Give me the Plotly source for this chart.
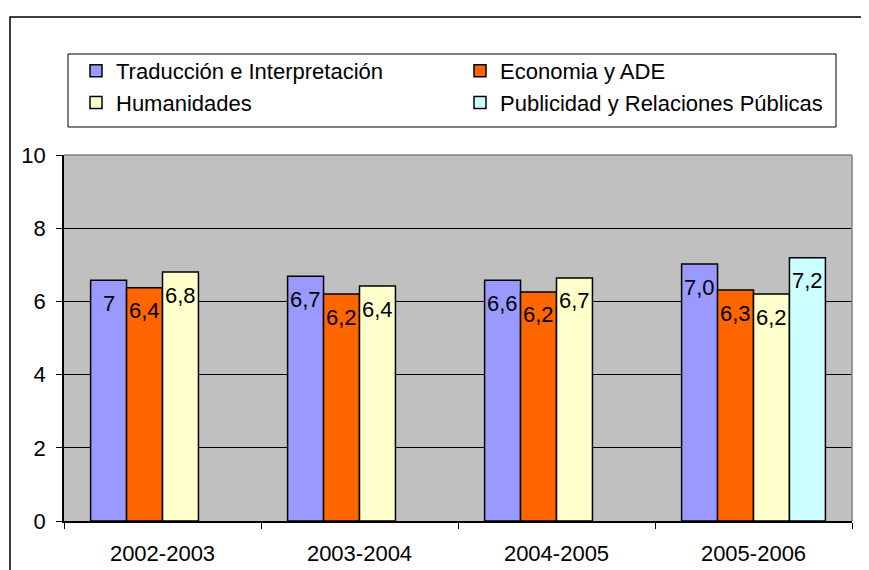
import plotly.graph_objects as go

categories = ["2002-2003", "2003-2004", "2004-2005", "2005-2006"]
series_names = ["Traducción e Interpretación", "Economia y ADE", "Humanidades",
                "Publicidad y Relaciones Públicas"]
trad = [6.58, 6.69, 6.58, 7.02]
eco = [6.37, 6.20, 6.26, 6.31]
hum = [6.80, 6.42, 6.64, 6.20]
pub = [None, None, None, 7.19]
trad_labels = ["7", "6,7", "6,6", "7,0"]
eco_labels = ["6,4", "6,2", "6,2", "6,3"]
hum_labels = ["6,8", "6,4", "6,7", "6,2"]
pub_labels = ["", "", "", "7,2"]
colors = ["#9999FF", "#FF6600", "#FFFFCC", "#CCFFFF"]

values = [trad, eco, hum, pub]
labels = [trad_labels, eco_labels, hum_labels, pub_labels]

FONT = "Liberation Sans, Arial, sans-serif"
FS = 22
BARGAP = 0.27
n_series = len(values)
bar_w = (1 - BARGAP) / n_series

fig = go.Figure()
for name, vals, col in zip(series_names, values, colors):
    fig.add_trace(go.Bar(
        x=categories, y=vals, name=name,
        marker=dict(color=col, line=dict(color="black", width=1.5)),
    ))

annotations = []
for k, (vals, labs) in enumerate(zip(values, labels)):
    for i, (v, t) in enumerate(zip(vals, labs)):
        if v is None or not t:
            continue
        annotations.append(dict(
            x=i + (k - (n_series - 1) / 2) * bar_w, y=v, xref="x", yref="y",
            text=t, showarrow=False, yanchor="middle", yshift=-23,
            font=dict(family=FONT, size=FS, color="black"),
        ))

# page has an 8px body margin; figure coordinates are offset by it
OFF = 8
W, H = 869 - OFF, 570 - OFF
L, R, T, B = 64 - OFF, 17, 155 - OFF, 49
pw, ph = W - L - R, H - T - B

def px_x(p):  # p in screenshot pixels
    return (p - OFF - L) / pw

def px_y(p):
    return (H - B - (p - OFF)) / ph

shapes = [
    # outer chart border
    dict(type="rect", xref="paper", yref="paper",
         x0=px_x(10), x1=px_x(885), y0=px_y(590), y1=px_y(17),
         line=dict(color="black", width=1.5), layer="below"),
    # legend box
    dict(type="rect", xref="paper", yref="paper",
         x0=px_x(68), x1=px_x(836), y0=px_y(127), y1=px_y(54),
         line=dict(color="black", width=1), fillcolor="white", layer="below"),
    # plot area top and right edges
    dict(type="line", xref="paper", yref="paper", x0=0, x1=1, y0=1, y1=1,
         line=dict(color="#808080", width=1.5), layer="above"),
    dict(type="line", xref="paper", yref="paper", x0=1, x1=1, y0=0, y1=1,
         line=dict(color="#808080", width=1.5), layer="above"),
]

fig.update_layout(
    width=W, height=H,
    margin=dict(l=L, r=R, t=T, b=B, autoexpand=False),
    paper_bgcolor="white", plot_bgcolor="#C0C0C0",
    barmode="group", bargap=BARGAP, bargroupgap=0,
    font=dict(family=FONT, size=FS, color="black"),
    showlegend=True,
    legend=dict(orientation="h", x=px_x(76), xanchor="left", y=px_y(50), yanchor="top",
                entrywidth=339, entrywidthmode="pixels",
                bgcolor="rgba(0,0,0,0)", borderwidth=0,
                font=dict(family=FONT, size=FS, color="black"),
                traceorder="normal"),
    annotations=annotations,
    shapes=shapes,
    xaxis=dict(showline=True, linecolor="black", linewidth=1.5, automargin=False,
               ticks="outside", ticklen=6, tickcolor="black", tickson="boundaries",
               ticklabelstandoff=12, showgrid=False,
               tickfont=dict(family=FONT, size=FS, color="black")),
    yaxis=dict(range=[0, 10], tickvals=[0, 2, 4, 6, 8, 10], showline=True,
               linecolor="black", linewidth=1.5, ticks="outside", ticklen=6,
               automargin=False,
               tickcolor="black", showgrid=True, gridcolor="black", gridwidth=1,
               zeroline=False, ticklabelstandoff=6,
               tickfont=dict(family=FONT, size=FS, color="black")),
)

fig.write_html("out.html")
